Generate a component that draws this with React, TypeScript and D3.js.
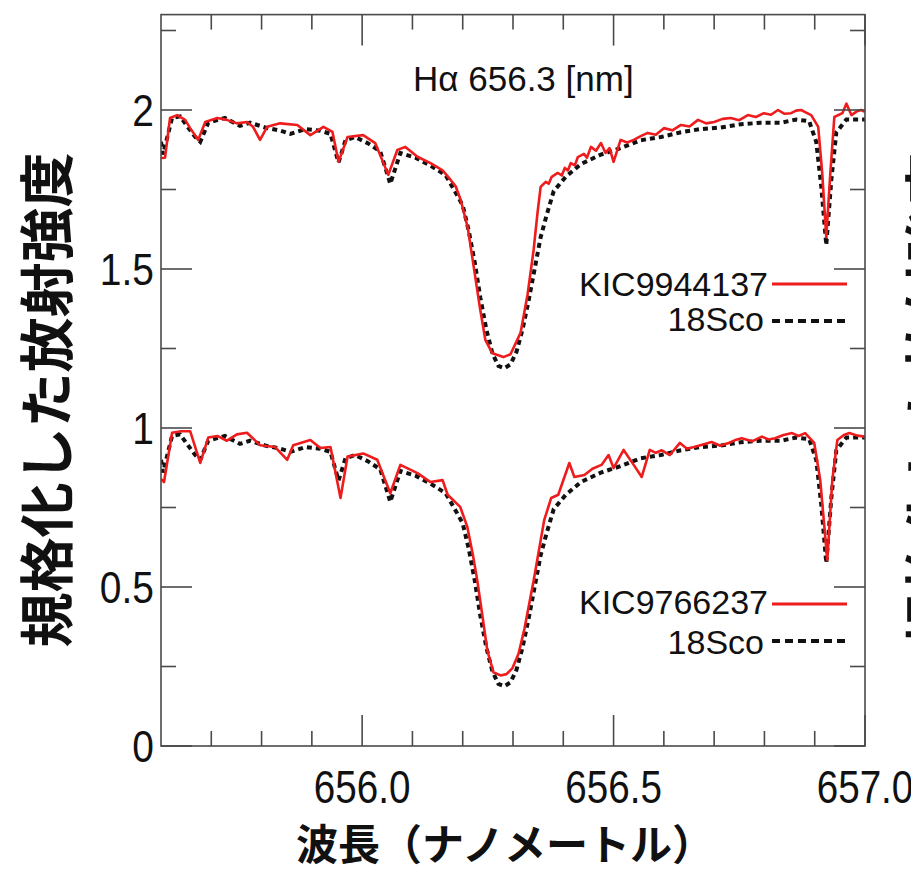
import React, { useRef, useEffect } from "react";
import * as d3 from "d3";

// KIC9944137 (upper panel, shifted by +1)
const wlKic9944137 = [
  655.6, 655.608, 655.618, 655.632, 655.648, 655.658, 655.674, 655.688, 655.712, 655.731,
  655.751, 655.771, 655.783, 655.797, 655.811, 655.837, 655.871, 655.897, 655.923, 655.941,
  655.953, 655.971, 656.002, 656.026, 656.052, 656.07, 656.086, 656.11, 656.136, 656.16,
  656.176, 656.186, 656.196, 656.21, 656.222, 656.234, 656.245, 656.259, 656.281, 656.295,
  656.315, 656.329, 656.341, 656.349, 656.355, 656.365, 656.371, 656.377, 656.389, 656.397,
  656.403, 656.409, 656.415, 656.423, 656.429, 656.441, 656.447, 656.455, 656.465, 656.475,
  656.484, 656.492, 656.5, 656.514, 656.527, 656.54, 656.554, 656.568, 656.584, 656.6,
  656.617, 656.634, 656.651, 656.668, 656.684, 656.7, 656.717, 656.733, 656.75, 656.767,
  656.783, 656.799, 656.813, 656.827, 656.84, 656.853, 656.863, 656.873, 656.883, 656.893,
  656.907, 656.915, 656.923, 656.931, 656.939, 656.955, 656.963, 656.973, 656.983, 656.992, 657.0,
];
const fluxKic9944137 = [
  0.849, 0.85, 0.975, 0.984, 0.969, 0.943, 0.906, 0.962, 0.975, 0.969,
  0.958, 0.962, 0.947, 0.906, 0.947, 0.958, 0.953, 0.921, 0.947, 0.931,
  0.837, 0.915, 0.921, 0.896, 0.796, 0.874, 0.884, 0.853, 0.833, 0.81,
  0.78, 0.76, 0.717, 0.63, 0.506, 0.38, 0.277, 0.235, 0.223, 0.232,
  0.299, 0.42, 0.56, 0.68, 0.758, 0.774, 0.768, 0.79, 0.802, 0.794,
  0.818, 0.81, 0.833, 0.826, 0.852, 0.862, 0.85, 0.884, 0.872, 0.896,
  0.865, 0.88, 0.837, 0.906, 0.898, 0.906, 0.918, 0.928, 0.922, 0.943,
  0.936, 0.953, 0.948, 0.969, 0.958, 0.962, 0.972, 0.975, 0.968, 0.984,
  0.978, 0.99, 0.985, 1.0, 0.988, 0.99, 0.998, 1.0, 0.992, 0.984,
  0.947, 0.8, 0.6, 0.8, 0.978, 0.99, 1.02, 0.984, 0.995, 1.0, 0.994,
];

// KIC9766237 (lower panel)
const wlKic9766237 = [
  655.6, 655.606, 655.622, 655.64, 655.658, 655.678, 655.694, 655.712, 655.731, 655.751,
  655.771, 655.797, 655.827, 655.851, 655.863, 655.897, 655.917, 655.937, 655.957, 655.971,
  656.002, 656.03, 656.056, 656.076, 656.11, 656.136, 656.16, 656.17, 656.195, 656.209,
  656.221, 656.229, 656.24, 656.249, 656.261, 656.275, 656.287, 656.299, 656.311, 656.323,
  656.335, 656.341, 656.362, 656.376, 656.39, 656.412, 656.422, 656.442, 656.458, 656.476, 656.49,
  656.5, 656.52, 656.54, 656.556, 656.572, 656.584, 656.596, 656.612, 656.632, 656.646, 656.66,
  656.678, 656.695, 656.712, 656.729, 656.742, 656.755, 656.775, 656.795, 656.808, 656.821,
  656.838, 656.855, 656.868, 656.881, 656.899, 656.911, 656.925, 656.935,
  656.945, 656.958, 656.969, 656.985, 657.0,
];
const fluxKic9766237 = [
  0.84, 0.83, 0.985, 0.99, 0.99, 0.89, 0.97, 0.975, 0.96, 0.98,
  0.985, 0.946, 0.94, 0.9, 0.946, 0.962, 0.937, 0.94, 0.78, 0.91,
  0.92, 0.9, 0.795, 0.884, 0.858, 0.83, 0.836, 0.79, 0.752, 0.69,
  0.594, 0.52, 0.4, 0.3, 0.232, 0.222, 0.226, 0.245, 0.29, 0.37,
  0.47, 0.52, 0.71, 0.78, 0.79, 0.89, 0.846, 0.852, 0.872, 0.884, 0.915,
  0.874, 0.931, 0.884, 0.846, 0.931, 0.922, 0.93, 0.915, 0.953, 0.935, 0.94,
  0.948, 0.956, 0.944, 0.953, 0.962, 0.968, 0.958, 0.973, 0.964, 0.968,
  0.978, 0.984, 0.975, 0.984, 0.953, 0.836, 0.585, 0.836,
  0.962, 0.978, 0.984, 0.976, 0.973,
];

// 18Sco reference (same spectrum in both panels)
const wl18Sco = [
  655.6, 655.604, 655.622, 655.638, 655.654, 655.668, 655.678, 655.694, 655.727, 655.757,
  655.777, 655.807, 655.837, 655.857, 655.887, 655.917, 655.937, 655.953, 655.967, 655.986,
  656.012, 656.036, 656.056, 656.076, 656.106, 656.136, 656.166, 656.186, 656.2, 656.212,
  656.224, 656.235, 656.247, 656.259, 656.271, 656.283, 656.295, 656.307, 656.319, 656.331,
  656.343, 656.355, 656.367, 656.381, 656.405, 656.435, 656.475, 656.514, 656.554, 656.594,
  656.634, 656.673, 656.713, 656.753, 656.793, 656.833, 656.863, 656.889, 656.903, 656.913,
  656.923, 656.933, 656.943, 656.963, 657.0,
];
const flux18Sco = [
  0.9, 0.86, 0.975, 0.98, 0.945, 0.915, 0.9, 0.96, 0.975, 0.95,
  0.96, 0.945, 0.935, 0.925, 0.94, 0.935, 0.925, 0.835, 0.905, 0.915,
  0.895, 0.87, 0.768, 0.865, 0.85, 0.825, 0.795, 0.74, 0.7, 0.62,
  0.52, 0.41, 0.31, 0.235, 0.195, 0.188, 0.2, 0.24, 0.31, 0.4,
  0.5, 0.6, 0.67, 0.745, 0.79, 0.83, 0.86, 0.88, 0.905, 0.915,
  0.93, 0.94, 0.945, 0.955, 0.96, 0.96, 0.97, 0.965, 0.9, 0.76,
  0.575, 0.78, 0.93, 0.97, 0.97,
];

const panelOffsets = [1, 0];
const starNames = ["KIC9944137", "KIC9766237"];
const refName = "18Sco";

const xMajorTicks = [656.0, 656.5, 657.0];
const xTickLabels = ["656.0", "656.5", "657.0"];
const xMinorTicks = [655.7, 655.8, 655.9, 656.1, 656.2, 656.3, 656.4, 656.6, 656.7, 656.8, 656.9];
const yMajorTicks = [0, 0.5, 1, 1.5, 2];
const yTickLabels = ["0", "0.5", "1", "1.5", "2"];
const yMinorTicks = [0.25, 0.75, 1.25, 1.75, 2.25];

const title = "Hα 656.3 [nm]";
const xTitle = "波長（ナノメートル）";
const yTitle = "規格化した放射強度";

const W = 911;
const H = 875;
const NUM_FONT = "'Liberation Sans', Arial, sans-serif";
const JP_FONT = "'Noto Sans CJK JP', sans-serif";
const RED = "#ee1c1c";
const AXIS = "#4a4a4a";

const App = () => {
  const svgRef = useRef<SVGSVGElement>(null);

  useEffect(() => {
    const svg = d3.select(svgRef.current);
    svg.selectAll("*").remove();

    const left = 161, right = 865, top = 14.6, bottom = 746;
    const x = d3.scaleLinear().domain([655.6, 657.0]).range([left, right]);
    const y = d3.scaleLinear().domain([0, 2.3]).range([bottom, top]);

    svg.append("rect").attr("width", W).attr("height", H).attr("fill", "#fff");

    svg.append("defs").append("clipPath").attr("id", "plotClip")
      .append("rect").attr("x", left).attr("y", top)
      .attr("width", right - left).attr("height", bottom - top);

    // spectra
    const plot = svg.append("g").attr("clip-path", "url(#plotClip)");
    const lineFor = (wl: number[], flux: number[], off: number) =>
      d3.line<number>()
        .x((_, i) => x(wl[i]))
        .y((d) => y(d + off))(flux);

    const stars = [
      { wl: wlKic9944137, flux: fluxKic9944137 },
      { wl: wlKic9766237, flux: fluxKic9766237 },
    ];

    panelOffsets.forEach((off, i) => {
      plot.append("path")
        .attr("d", lineFor(wl18Sco, flux18Sco, off))
        .attr("fill", "none")
        .attr("stroke", "#111")
        .attr("stroke-width", 4)
        .attr("stroke-dasharray", "5,4");
      plot.append("path")
        .attr("d", lineFor(stars[i].wl, stars[i].flux, off))
        .attr("fill", "none")
        .attr("stroke", RED)
        .attr("stroke-width", 2.6)
        .attr("stroke-linejoin", "round");
    });

    // frame
    svg.append("rect")
      .attr("x", left).attr("y", top)
      .attr("width", right - left).attr("height", bottom - top)
      .attr("fill", "none").attr("stroke", AXIS).attr("stroke-width", 1.6);

    // ticks, inward on all four sides
    const ticks = svg.append("g").attr("stroke", AXIS).attr("stroke-width", 1.6);
    const xTick = (v: number, len: number) => {
      ticks.append("line").attr("x1", x(v)).attr("x2", x(v)).attr("y1", bottom).attr("y2", bottom - len);
      ticks.append("line").attr("x1", x(v)).attr("x2", x(v)).attr("y1", top).attr("y2", top + len);
    };
    const yTick = (v: number, len: number) => {
      ticks.append("line").attr("x1", left).attr("x2", left + len).attr("y1", y(v)).attr("y2", y(v));
      ticks.append("line").attr("x1", right).attr("x2", right - len).attr("y1", y(v)).attr("y2", y(v));
    };
    xMajorTicks.forEach((v) => xTick(v, 31));
    xMinorTicks.forEach((v) => xTick(v, 15));
    yMajorTicks.forEach((v) => yTick(v, 31));
    yMinorTicks.forEach((v) => yTick(v, 15));

    // tick labels (slightly condensed, as in the original)
    svg.append("g").selectAll("text").data(xMajorTicks).enter().append("text")
      .attr("transform", (d) => `translate(${x(d)},803) scale(0.92,1.08)`)
      .attr("text-anchor", "middle")
      .style("font-family", NUM_FONT)
      .style("font-size", "42px")
      .attr("fill", "#111")
      .text((_, i) => xTickLabels[i]);

    svg.append("g").selectAll("text").data(yMajorTicks).enter().append("text")
      .attr("transform", (d) => `translate(154,${y(d) + 16}) scale(0.95,1.08)`)
      .attr("text-anchor", "end")
      .style("font-family", NUM_FONT)
      .style("font-size", "41px")
      .attr("fill", "#111")
      .text((_, i) => yTickLabels[i]);

    // title inside the plot
    svg.append("text")
      .attr("x", 413).attr("y", 91)
      .style("font-family", NUM_FONT)
      .style("font-size", "35px")
      .attr("fill", "#111")
      .text(title);

    // legends
    const legendRows = [
      { name: starNames[0], lineY: 284, textY: 296, refLineY: 321, refTextY: 331 },
      { name: starNames[1], lineY: 604, textY: 614, refLineY: 641, refTextY: 654 },
    ];
    legendRows.forEach((r) => {
      svg.append("text")
        .attr("x", 768).attr("y", r.textY)
        .attr("text-anchor", "end")
        .style("font-family", NUM_FONT)
        .style("font-size", "34px")
        .attr("fill", "#111")
        .text(r.name);
      svg.append("line")
        .attr("x1", 772).attr("x2", 847).attr("y1", r.lineY).attr("y2", r.lineY)
        .attr("stroke", RED).attr("stroke-width", 3);
      svg.append("text")
        .attr("x", 764).attr("y", r.refTextY)
        .attr("text-anchor", "end")
        .style("font-family", NUM_FONT)
        .style("font-size", "34px")
        .attr("fill", "#111")
        .text(refName);
      svg.append("line")
        .attr("x1", 772).attr("x2", 846).attr("y1", r.refLineY).attr("y2", r.refLineY)
        .attr("stroke", "#111").attr("stroke-width", 4).attr("stroke-dasharray", "8,5");
    });

    // axis titles
    svg.append("text")
      .attr("x", 505).attr("y", 860)
      .attr("text-anchor", "middle")
      .style("font-family", JP_FONT)
      .style("font-size", "42px")
      .style("font-weight", 600)
      .attr("fill", "#111")
      .text(xTitle);

    svg.append("text")
      .attr("transform", "translate(67,400) rotate(-90)")
      .attr("text-anchor", "middle")
      .style("font-family", JP_FONT)
      .style("font-size", "55px")
      .style("font-weight", 600)
      .attr("fill", "#111")
      .text(yTitle);

    // neighbouring panel's y title, cut off by the right edge
    svg.append("text")
      .attr("transform", "translate(952,400) rotate(-90)")
      .attr("text-anchor", "middle")
      .style("font-family", JP_FONT)
      .style("font-size", "55px")
      .style("font-weight", 600)
      .attr("fill", "#111")
      .text(yTitle);
  }, []);

  return (
    <svg ref={svgRef} width={W} height={H} style={{ position: "absolute", left: 0, top: 0 }} />
  );
};

export default App;
